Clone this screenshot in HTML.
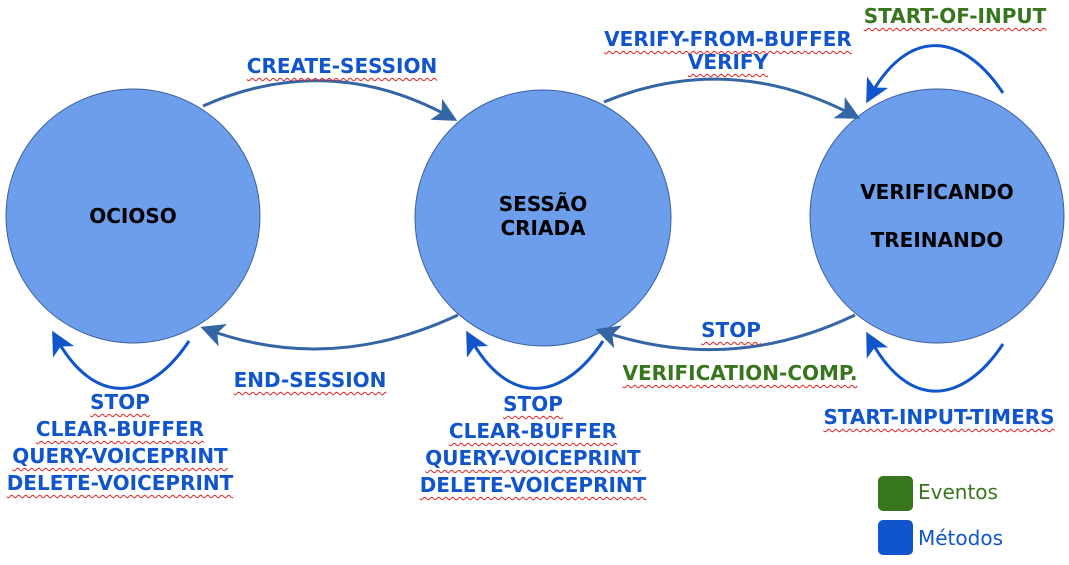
<!DOCTYPE html>
<html><head><meta charset="utf-8"><style>
body{margin:0;width:1069px;height:565px;background:#fff;position:relative;overflow:hidden;font-family:"DejaVu Sans","Liberation Sans",sans-serif}
svg{position:absolute;left:0;top:0}
.l{position:absolute;font-weight:bold;font-size:20px;line-height:20px;white-space:nowrap;transform:translateX(-50%);text-decoration:underline wavy #e02020;text-decoration-thickness:1px;text-underline-offset:4px}
.b{color:#1155cc}.g{color:#38761d}
.c{position:absolute;font-weight:bold;font-size:20px;line-height:20px;color:#000;transform:translateX(-50%);white-space:nowrap}
.sq{position:absolute;left:878px;width:35px;height:35px;border-radius:5px}
.t{position:absolute;left:918px;font-size:20px;line-height:22px}
</style></head><body>
<svg width="1069" height="565" viewBox="0 0 1069 565">
<defs>
<marker id="a1" markerWidth="8" markerHeight="8" refX="6" refY="4" orient="auto" markerUnits="strokeWidth"><path d="M0,0 L8,4 L0,8 L2,4z" fill="#3465a4"/></marker>
<marker id="a2" markerWidth="8" markerHeight="8" refX="6" refY="4" orient="auto" markerUnits="strokeWidth"><path d="M0,0 L8,4 L0,8 L2,4z" fill="#1155cc"/></marker>
</defs>
<g fill="#6d9eeb" stroke="#3c5f9e" stroke-width="1">
<circle cx="133" cy="216" r="127"/>
<circle cx="543" cy="218" r="128"/>
<circle cx="937" cy="216" r="127"/>
</g>
<g fill="none" stroke="#3465a4" stroke-width="3">
<path d="M203,106 Q330,50 452,118" marker-end="url(#a1)"/>
<path d="M604,102 Q730,50 855,116" marker-end="url(#a1)"/>
<path d="M458,315 Q330,375 206,329" marker-end="url(#a1)"/>
<path d="M855,315 Q730,375 601,331" marker-end="url(#a1)"/>
</g>
<g fill="none" stroke="#1155cc" stroke-width="3">
<path d="M189,341 C150,400 95,410 55,336" marker-end="url(#a2)"/>
<path d="M603,341 C564,400 509,410 469,336" marker-end="url(#a2)"/>
<path d="M1003,344 C964,403 909,413 869,337" marker-end="url(#a2)"/>
<path d="M1003,93 C964,34 909,24 869,98" marker-end="url(#a2)"/>
</g>
</svg>
<div class="c" style="left:133px;top:206px">OCIOSO</div>
<div class="c" style="left:543px;top:194px">SESSÃO</div>
<div class="c" style="left:543px;top:218px">CRIADA</div>
<div class="c" style="left:937px;top:182px">VERIFICANDO</div>
<div class="c" style="left:937px;top:230px">TREINANDO</div>

<div class="l b" style="left:342px;top:56px">CREATE-SESSION</div>
<div class="l b" style="left:728px;top:29px">VERIFY-FROM-BUFFER</div>
<div class="l b" style="left:728px;top:52px">VERIFY</div>
<div class="l g" style="left:955px;top:6px">START-OF-INPUT</div>
<div class="l b" style="left:731px;top:320px">STOP</div>
<div class="l g" style="left:740px;top:363px">VERIFICATION-COMP.</div>
<div class="l b" style="left:939px;top:407px">START-INPUT-TIMERS</div>
<div class="l b" style="left:310px;top:370px">END-SESSION</div>

<div class="l b" style="left:120px;top:392px">STOP</div>
<div class="l b" style="left:120px;top:419px">CLEAR-BUFFER</div>
<div class="l b" style="left:120px;top:446px">QUERY-VOICEPRINT</div>
<div class="l b" style="left:120px;top:473px">DELETE-VOICEPRINT</div>

<div class="l b" style="left:533px;top:394px">STOP</div>
<div class="l b" style="left:533px;top:421px">CLEAR-BUFFER</div>
<div class="l b" style="left:533px;top:448px">QUERY-VOICEPRINT</div>
<div class="l b" style="left:533px;top:475px">DELETE-VOICEPRINT</div>

<div class="sq" style="top:476px;background:#38761d"></div>
<div class="sq" style="top:520px;background:#1155cc"></div>
<div class="t g" style="top:481px">Eventos</div>
<div class="t b" style="top:527px">Métodos</div>
</body></html>
